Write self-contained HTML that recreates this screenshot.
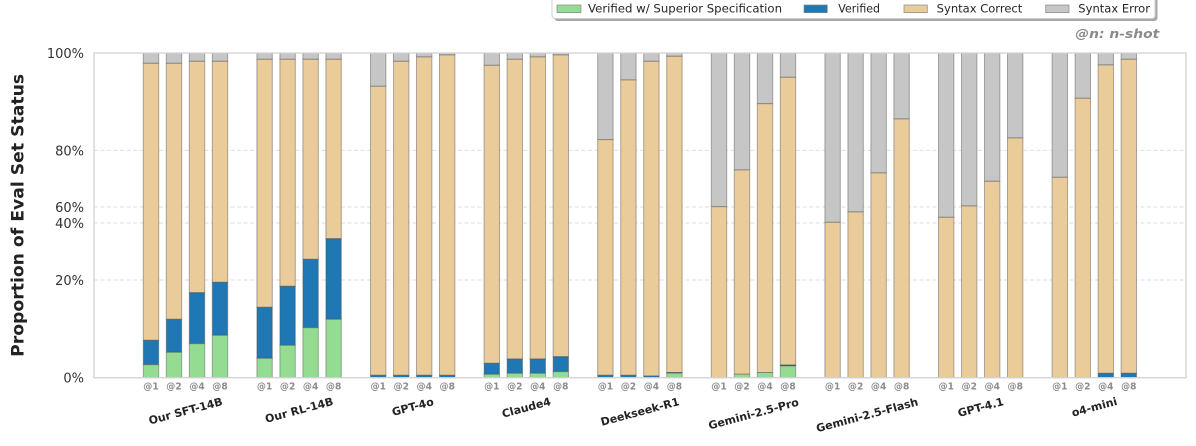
<!DOCTYPE html>
<html>
<head>
<meta charset="utf-8">
<style>
html,body{margin:0;padding:0;background:#fff;}
body{width:1196px;height:446px;overflow:hidden;}
svg{display:block;font-family:"DejaVu Sans","Liberation Sans",sans-serif;}
.G{fill:#95dc93}
.B{fill:#1f77b4}
.T{fill:#eacb9a}
.E{fill:#c6c6c6}
.bars rect{stroke:rgba(80,80,80,0.45);stroke-width:1}
.tk{font-size:10px;font-weight:bold;fill:#8c8c8c;text-anchor:middle}
.yl{font-size:13px;fill:#333;text-anchor:end}
.gl{font-size:11px;font-weight:bold;fill:#222;text-anchor:middle}
.lg{font-size:11.5px;fill:#262626}
</style>
</head>
<body>
<svg width="1196" height="446" viewBox="0 0 1196 446" xmlns="http://www.w3.org/2000/svg">
<rect x="0" y="0" width="1196" height="446" fill="#fff"/>

<!-- grid -->
<g stroke="#dcdcdc" stroke-width="0.9" stroke-dasharray="4 2.5">
<line x1="94" y1="150.3" x2="1186" y2="150.3"/>
<line x1="94" y1="207" x2="1186" y2="207"/>
<line x1="94" y1="223" x2="1186" y2="223"/>
<line x1="94" y1="280" x2="1186" y2="280"/>
</g>

<!-- bars -->
<g class="bars">
<!-- SFT -->
<rect class="E" x="143.3" y="53" width="15.4" height="10.3"/><rect class="T" x="143.3" y="63.3" width="15.4" height="277"/><rect class="B" x="143.3" y="340.3" width="15.4" height="24.4"/><rect class="G" x="143.3" y="364.7" width="15.4" height="13"/>
<rect class="E" x="166.3" y="53" width="15.4" height="10.3"/><rect class="T" x="166.3" y="63.3" width="15.4" height="256"/><rect class="B" x="166.3" y="319.3" width="15.4" height="33"/><rect class="G" x="166.3" y="352.3" width="15.4" height="25.4"/>
<rect class="E" x="189.3" y="53" width="15.4" height="8.3"/><rect class="T" x="189.3" y="61.3" width="15.4" height="231.4"/><rect class="B" x="189.3" y="292.7" width="15.4" height="51"/><rect class="G" x="189.3" y="343.7" width="15.4" height="34"/>
<rect class="E" x="212.3" y="53" width="15.4" height="8.3"/><rect class="T" x="212.3" y="61.3" width="15.4" height="221"/><rect class="B" x="212.3" y="282.3" width="15.4" height="53"/><rect class="G" x="212.3" y="335.3" width="15.4" height="42.4"/>
<!-- RL -->
<rect class="E" x="256.9" y="53" width="15.4" height="6.3"/><rect class="T" x="256.9" y="59.3" width="15.4" height="248"/><rect class="B" x="256.9" y="307.3" width="15.4" height="51"/><rect class="G" x="256.9" y="358.3" width="15.4" height="19.4"/>
<rect class="E" x="279.9" y="53" width="15.4" height="6.3"/><rect class="T" x="279.9" y="59.3" width="15.4" height="227"/><rect class="B" x="279.9" y="286.3" width="15.4" height="59"/><rect class="G" x="279.9" y="345.3" width="15.4" height="32.4"/>
<rect class="E" x="302.9" y="53" width="15.4" height="6.3"/><rect class="T" x="302.9" y="59.3" width="15.4" height="200"/><rect class="B" x="302.9" y="259.3" width="15.4" height="68.4"/><rect class="G" x="302.9" y="327.7" width="15.4" height="50"/>
<rect class="E" x="325.9" y="53" width="15.4" height="6.3"/><rect class="T" x="325.9" y="59.3" width="15.4" height="179.4"/><rect class="B" x="325.9" y="238.7" width="15.4" height="80.6"/><rect class="G" x="325.9" y="319.3" width="15.4" height="58.4"/>
<!-- GPT-4o -->
<rect class="E" x="370.5" y="53" width="15.4" height="33.3"/><rect class="T" x="370.5" y="86.3" width="15.4" height="289"/><rect class="B" x="370.5" y="375.3" width="15.4" height="2.4"/>
<rect class="E" x="393.5" y="53" width="15.4" height="8.3"/><rect class="T" x="393.5" y="61.3" width="15.4" height="314"/><rect class="B" x="393.5" y="375.3" width="15.4" height="2.4"/>
<rect class="E" x="416.5" y="53" width="15.4" height="4"/><rect class="T" x="416.5" y="57" width="15.4" height="318.3"/><rect class="B" x="416.5" y="375.3" width="15.4" height="2.4"/>
<rect class="E" x="439.5" y="53" width="15.4" height="2"/><rect class="T" x="439.5" y="55" width="15.4" height="320.3"/><rect class="B" x="439.5" y="375.3" width="15.4" height="2.4"/>
<!-- Claude4 -->
<rect class="E" x="484.1" y="53" width="15.4" height="12.3"/><rect class="T" x="484.1" y="65.3" width="15.4" height="298"/><rect class="B" x="484.1" y="363.3" width="15.4" height="11"/><rect class="G" x="484.1" y="374.3" width="15.4" height="3.4"/>
<rect class="E" x="507.1" y="53" width="15.4" height="6.3"/><rect class="T" x="507.1" y="59.3" width="15.4" height="299.7"/><rect class="B" x="507.1" y="359" width="15.4" height="14.3"/><rect class="G" x="507.1" y="373.3" width="15.4" height="4.4"/>
<rect class="E" x="530.1" y="53" width="15.4" height="4"/><rect class="T" x="530.1" y="57" width="15.4" height="302"/><rect class="B" x="530.1" y="359" width="15.4" height="14.3"/><rect class="G" x="530.1" y="373.3" width="15.4" height="4.4"/>
<rect class="E" x="553.1" y="53" width="15.4" height="2"/><rect class="T" x="553.1" y="55" width="15.4" height="301.7"/><rect class="B" x="553.1" y="356.7" width="15.4" height="15"/><rect class="G" x="553.1" y="371.7" width="15.4" height="6"/>
<!-- Deepseek -->
<rect class="E" x="597.7" y="53" width="15.4" height="86.7"/><rect class="T" x="597.7" y="139.7" width="15.4" height="235.6"/><rect class="B" x="597.7" y="375.3" width="15.4" height="2.4"/>
<rect class="E" x="620.7" y="53" width="15.4" height="27"/><rect class="T" x="620.7" y="80" width="15.4" height="295.3"/><rect class="B" x="620.7" y="375.3" width="15.4" height="2.4"/>
<rect class="E" x="643.7" y="53" width="15.4" height="8.3"/><rect class="T" x="643.7" y="61.3" width="15.4" height="314.7"/><rect class="B" x="643.7" y="376" width="15.4" height="1.7"/>
<rect class="E" x="666.7" y="53" width="15.4" height="3.3"/><rect class="T" x="666.7" y="56.3" width="15.4" height="316.2"/><rect class="B" x="666.7" y="372.5" width="15.4" height="0.7"/><rect class="G" x="666.7" y="373.2" width="15.4" height="4.5"/>
<!-- Gemini Pro -->
<rect class="E" x="711.3" y="53" width="15.4" height="153.7"/><rect class="T" x="711.3" y="206.7" width="15.4" height="171"/>
<rect class="E" x="734.3" y="53" width="15.4" height="117"/><rect class="T" x="734.3" y="170" width="15.4" height="204.2"/><rect class="G" x="734.3" y="374.2" width="15.4" height="3.5"/>
<rect class="E" x="757.3" y="53" width="15.4" height="50.7"/><rect class="T" x="757.3" y="103.7" width="15.4" height="268.8"/><rect class="G" x="757.3" y="372.5" width="15.4" height="5.2"/>
<rect class="E" x="780.3" y="53" width="15.4" height="24.3"/><rect class="T" x="780.3" y="77.3" width="15.4" height="287.7"/><rect class="B" x="780.3" y="365" width="15.4" height="1"/><rect class="G" x="780.3" y="366" width="15.4" height="11.7"/>
<!-- Gemini Flash -->
<rect class="E" x="824.9" y="53" width="15.4" height="169.3"/><rect class="T" x="824.9" y="222.3" width="15.4" height="155.4"/>
<rect class="E" x="847.9" y="53" width="15.4" height="159"/><rect class="T" x="847.9" y="212" width="15.4" height="165.7"/>
<rect class="E" x="870.9" y="53" width="15.4" height="120"/><rect class="T" x="870.9" y="173" width="15.4" height="204.7"/>
<rect class="E" x="893.9" y="53" width="15.4" height="66"/><rect class="T" x="893.9" y="119" width="15.4" height="258.7"/>
<!-- GPT-4.1 -->
<rect class="E" x="938.5" y="53" width="15.4" height="164.3"/><rect class="T" x="938.5" y="217.3" width="15.4" height="160.4"/>
<rect class="E" x="961.5" y="53" width="15.4" height="153"/><rect class="T" x="961.5" y="206" width="15.4" height="171.7"/>
<rect class="E" x="984.5" y="53" width="15.4" height="128.3"/><rect class="T" x="984.5" y="181.3" width="15.4" height="196.4"/>
<rect class="E" x="1007.5" y="53" width="15.4" height="85"/><rect class="T" x="1007.5" y="138" width="15.4" height="239.7"/>
<!-- o4-mini -->
<rect class="E" x="1052.1" y="53" width="15.4" height="124.3"/><rect class="T" x="1052.1" y="177.3" width="15.4" height="200.4"/>
<rect class="E" x="1075.1" y="53" width="15.4" height="45.3"/><rect class="T" x="1075.1" y="98.3" width="15.4" height="279.4"/>
<rect class="E" x="1098.1" y="53" width="15.4" height="12"/><rect class="T" x="1098.1" y="65" width="15.4" height="308.3"/><rect class="B" x="1098.1" y="373.3" width="15.4" height="4.4"/>
<rect class="E" x="1121.1" y="53" width="15.4" height="6.3"/><rect class="T" x="1121.1" y="59.3" width="15.4" height="314"/><rect class="B" x="1121.1" y="373.3" width="15.4" height="4.4"/>
</g>

<!-- spines -->
<rect x="94" y="53" width="1092" height="324.7" fill="none" stroke="#d2d2d2" stroke-width="1.3"/>

<!-- y tick labels -->
<text class="yl" x="84" y="58">100%</text>
<text class="yl" x="84" y="155.3">80%</text>
<text class="yl" x="84" y="212">60%</text>
<text class="yl" x="84" y="228">40%</text>
<text class="yl" x="84" y="285">20%</text>
<text class="yl" x="84" y="382.7">0%</text>

<!-- y label -->
<text transform="translate(23.6,215.4) rotate(-90)" x="0" y="0" text-anchor="middle" font-size="17.3" font-weight="bold" fill="#222" textLength="283" lengthAdjust="spacingAndGlyphs">Proportion of Eval Set Status</text>

<!-- x tick labels -->
<g>
<text class="tk" x="151" y="389.3" textLength="15.4" lengthAdjust="spacingAndGlyphs">@1</text><text class="tk" x="174" y="389.3" textLength="15.4" lengthAdjust="spacingAndGlyphs">@2</text><text class="tk" x="197" y="389.3" textLength="15.4" lengthAdjust="spacingAndGlyphs">@4</text><text class="tk" x="220" y="389.3" textLength="15.4" lengthAdjust="spacingAndGlyphs">@8</text>
<text class="tk" x="264.6" y="389.3" textLength="15.4" lengthAdjust="spacingAndGlyphs">@1</text><text class="tk" x="287.6" y="389.3" textLength="15.4" lengthAdjust="spacingAndGlyphs">@2</text><text class="tk" x="310.6" y="389.3" textLength="15.4" lengthAdjust="spacingAndGlyphs">@4</text><text class="tk" x="333.6" y="389.3" textLength="15.4" lengthAdjust="spacingAndGlyphs">@8</text>
<text class="tk" x="378.2" y="389.3" textLength="15.4" lengthAdjust="spacingAndGlyphs">@1</text><text class="tk" x="401.2" y="389.3" textLength="15.4" lengthAdjust="spacingAndGlyphs">@2</text><text class="tk" x="424.2" y="389.3" textLength="15.4" lengthAdjust="spacingAndGlyphs">@4</text><text class="tk" x="447.2" y="389.3" textLength="15.4" lengthAdjust="spacingAndGlyphs">@8</text>
<text class="tk" x="491.8" y="389.3" textLength="15.4" lengthAdjust="spacingAndGlyphs">@1</text><text class="tk" x="514.8" y="389.3" textLength="15.4" lengthAdjust="spacingAndGlyphs">@2</text><text class="tk" x="537.8" y="389.3" textLength="15.4" lengthAdjust="spacingAndGlyphs">@4</text><text class="tk" x="560.8" y="389.3" textLength="15.4" lengthAdjust="spacingAndGlyphs">@8</text>
<text class="tk" x="605.4" y="389.3" textLength="15.4" lengthAdjust="spacingAndGlyphs">@1</text><text class="tk" x="628.4" y="389.3" textLength="15.4" lengthAdjust="spacingAndGlyphs">@2</text><text class="tk" x="651.4" y="389.3" textLength="15.4" lengthAdjust="spacingAndGlyphs">@4</text><text class="tk" x="674.4" y="389.3" textLength="15.4" lengthAdjust="spacingAndGlyphs">@8</text>
<text class="tk" x="719" y="389.3" textLength="15.4" lengthAdjust="spacingAndGlyphs">@1</text><text class="tk" x="742" y="389.3" textLength="15.4" lengthAdjust="spacingAndGlyphs">@2</text><text class="tk" x="765" y="389.3" textLength="15.4" lengthAdjust="spacingAndGlyphs">@4</text><text class="tk" x="788" y="389.3" textLength="15.4" lengthAdjust="spacingAndGlyphs">@8</text>
<text class="tk" x="832.6" y="389.3" textLength="15.4" lengthAdjust="spacingAndGlyphs">@1</text><text class="tk" x="855.6" y="389.3" textLength="15.4" lengthAdjust="spacingAndGlyphs">@2</text><text class="tk" x="878.6" y="389.3" textLength="15.4" lengthAdjust="spacingAndGlyphs">@4</text><text class="tk" x="901.6" y="389.3" textLength="15.4" lengthAdjust="spacingAndGlyphs">@8</text>
<text class="tk" x="946.2" y="389.3" textLength="15.4" lengthAdjust="spacingAndGlyphs">@1</text><text class="tk" x="969.2" y="389.3" textLength="15.4" lengthAdjust="spacingAndGlyphs">@2</text><text class="tk" x="992.2" y="389.3" textLength="15.4" lengthAdjust="spacingAndGlyphs">@4</text><text class="tk" x="1015.2" y="389.3" textLength="15.4" lengthAdjust="spacingAndGlyphs">@8</text>
<text class="tk" x="1059.8" y="389.3" textLength="15.4" lengthAdjust="spacingAndGlyphs">@1</text><text class="tk" x="1082.8" y="389.3" textLength="15.4" lengthAdjust="spacingAndGlyphs">@2</text><text class="tk" x="1105.8" y="389.3" textLength="15.4" lengthAdjust="spacingAndGlyphs">@4</text><text class="tk" x="1128.8" y="389.3" textLength="15.4" lengthAdjust="spacingAndGlyphs">@8</text>
</g>

<!-- group labels -->
<text class="gl" transform="rotate(-15 185.5 410.8)" x="185.5" y="414.8">Our SFT-14B</text>
<text class="gl" transform="rotate(-15 299.1 409.9)" x="299.1" y="413.9">Our RL-14B</text>
<text class="gl" transform="rotate(-15 412.7 406.6)" x="412.7" y="410.6">GPT-4o</text>
<text class="gl" transform="rotate(-15 526.3 407.4)" x="526.3" y="411.4">Claude4</text>
<text class="gl" transform="rotate(-15 639.9 411.5)" x="639.9" y="415.5">Deekseek-R1</text>
<text class="gl" transform="rotate(-15 753.5 413.6)" x="753.5" y="417.6">Gemini-2.5-Pro</text>
<text class="gl" transform="rotate(-15 867.1 414.8)" x="867.1" y="418.8">Gemini-2.5-Flash</text>
<text class="gl" transform="rotate(-15 980.7 407.1)" x="980.7" y="411.1">GPT-4.1</text>
<text class="gl" transform="rotate(-15 1094.3 406.8)" x="1094.3" y="410.8">o4-mini</text>

<!-- legend -->
<rect x="554.5" y="-3.5" width="603" height="24.5" rx="3" fill="#a8a8a8"/>
<rect x="552" y="-6" width="603" height="24.5" rx="3" fill="#fff" stroke="#cfcfcf" stroke-width="1"/>
<rect x="557" y="5" width="24" height="7.7" fill="#95dc93" stroke="#888" stroke-width="0.7"/>
<text class="lg" x="588" y="12.7" textLength="194" lengthAdjust="spacingAndGlyphs">Verified w/ Superior Specification</text>
<rect x="804" y="5" width="23.3" height="7.7" fill="#1f77b4" stroke="#888" stroke-width="0.7"/>
<text class="lg" x="838.3" y="12.7" textLength="41.7" lengthAdjust="spacingAndGlyphs">Verified</text>
<rect x="904" y="5" width="23.3" height="7.7" fill="#eacb9a" stroke="#888" stroke-width="0.7"/>
<text class="lg" x="936.7" y="12.7" textLength="85.6" lengthAdjust="spacingAndGlyphs">Syntax Correct</text>
<rect x="1045.7" y="5" width="23.3" height="7.7" fill="#c6c6c6" stroke="#888" stroke-width="0.7"/>
<text class="lg" x="1078.3" y="12.7" textLength="71.7" lengthAdjust="spacingAndGlyphs">Syntax Error</text>

<!-- n-shot note -->
<text x="1075.3" y="38" font-size="12.5" font-weight="bold" font-style="italic" fill="#8a8a8a" textLength="84" lengthAdjust="spacingAndGlyphs">@n: n-shot</text>
</svg>
</body>
</html>
